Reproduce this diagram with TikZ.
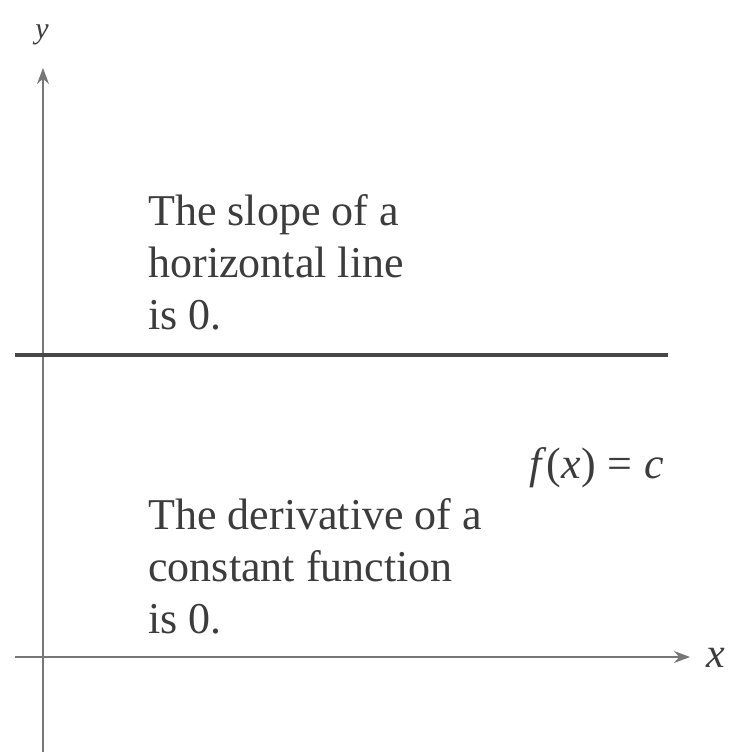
\documentclass[tikz,border=0pt]{standalone}
\usepackage{fontspec}
\setmainfont{Liberation Serif}
\usepackage{tikz}
\usetikzlibrary{arrows.meta, positioning}
\definecolor{axGray}{HTML}{777777}
\definecolor{txtGray}{HTML}{3C3C3C}
\tikzset{
  axis/.style={-{Stealth[length=8pt, width=6pt]}, line width=0.8pt, axGray},
  constline/.style={line width=2pt, black!72},
  note/.style={font=\fontsize{22}{26}\selectfont, align=left, anchor=west, text=txtGray, inner sep=0pt},
  axlabel/.style={font=\itshape, text=txtGray, inner sep=0pt}
}
\begin{document}
\begin{tikzpicture}[x=0.5pt, y=0.5pt]
  \useasboundingbox (0,0) rectangle (729,752);
  % axes
  \coordinate (ybot) at (43,0);
  \coordinate (ytop) at (43,684);
  \coordinate (xleft) at (15,95);
  \coordinate (xright) at (690,95);
  \draw[axis] (ybot) -- (ytop);
  \draw[axis] (xleft) -- (xright);
  \node[axlabel, font=\fontsize{15}{18}\selectfont\itshape] (ylab) at (42,717) {y};
  \node[axlabel, font=\fontsize{21}{24}\selectfont\itshape] (xlab) at (716,94) {x};
  % the constant function
  \coordinate (cleft) at (15,397);
  \coordinate (cright) at (668,397);
  \draw[constline] (cleft) -- (cright);
  \node[note] (slope) at (148,490) {The slope of a\\horizontal line\\is 0.};
  \node[note] (deriv) at (148,186) {The derivative of a\\constant function\\is 0.};
  \node[note, anchor=center] (fx) at (597,284) {\textit{f}(\textit{x})\;=\;\textit{c}};
\end{tikzpicture}
\end{document}
